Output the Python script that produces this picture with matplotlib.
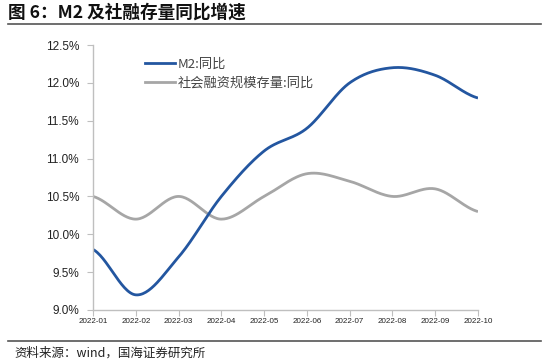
import numpy as np
import matplotlib
matplotlib.use("Agg")
import matplotlib.pyplot as plt
from matplotlib.lines import Line2D

plt.rcParams['font.family'] = ['Noto Sans CJK SC', 'DejaVu Sans']

months = ["2022-01", "2022-02", "2022-03", "2022-04", "2022-05",
          "2022-06", "2022-07", "2022-08", "2022-09", "2022-10"]
m2 = [9.8, 9.2, 9.7, 10.5, 11.1, 11.4, 12.0, 12.2, 12.1, 11.8]
tsf = [10.5, 10.2, 10.5, 10.2, 10.5, 10.8, 10.7, 10.5, 10.6, 10.3]
yticks = [9.0, 9.5, 10.0, 10.5, 11.0, 11.5, 12.0, 12.5]

title = "图 6：M2 及社融存量同比增速"
source = "资料来源：wind，国海证券研究所"
name_m2 = "M2:同比"
name_tsf = "社会融资规模存量:同比"

blue = "#2356A0"
gray = "#A6A6A6"


def smooth(y, n=30, t=0.5):
    y = np.asarray(y, float)
    x = np.arange(len(y), dtype=float)
    xs, ys = [], []
    for i in range(len(y) - 1):
        p0 = y[i - 1] if i > 0 else y[i]
        p3 = y[i + 2] if i + 2 < len(y) else y[i + 1]
        p1, p2 = y[i], y[i + 1]
        m1 = t * (p2 - p0)
        m2_ = t * (p3 - p1)
        s = np.linspace(0, 1, n, endpoint=False)
        h00 = 2 * s**3 - 3 * s**2 + 1
        h10 = s**3 - 2 * s**2 + s
        h01 = -2 * s**3 + 3 * s**2
        h11 = s**3 - s**2
        ys.append(h00 * p1 + h10 * m1 + h01 * p2 + h11 * m2_)
        xs.append(x[i] + s)
    xs.append([x[-1]])
    ys.append([y[-1]])
    return np.concatenate(xs), np.concatenate(ys)


fig = plt.figure(figsize=(5.5, 3.62), dpi=100)
ax = fig.add_axes([93 / 550, 1 - 310 / 362, (478 - 93) / 550, (310 - 45) / 362])

xs, ys = smooth(tsf)
ax.plot(xs, ys, color=gray, lw=2.0, solid_capstyle='butt')
xs, ys = smooth(m2)
ax.plot(xs, ys, color=blue, lw=2.0, solid_capstyle='butt')

ax.set_xlim(0, len(months) - 1)
ax.set_ylim(9.0, 12.5)
ax.set_yticks(yticks)
ax.set_yticklabels([f"{v:.1f}%" for v in yticks], fontsize=8.5, color="#222222",
                   family=['Liberation Sans', 'DejaVu Sans'])
ax.set_xticks(range(len(months)))
ax.set_xticklabels(months, fontsize=5.8, color="#222222",
                   family=['Liberation Sans', 'DejaVu Sans'])
for s in ['top', 'right']:
    ax.spines[s].set_visible(False)
for s in ['left', 'bottom']:
    ax.spines[s].set_color("#BFBFBF")
    ax.spines[s].set_linewidth(1.0)
ax.tick_params(axis='y', length=4, color="#BFBFBF", pad=6)
ax.tick_params(axis='x', length=4, color="#BFBFBF", pad=2)

handles = [Line2D([], [], color=blue, lw=2.0), Line2D([], [], color=gray, lw=2.0)]
leg = ax.legend(handles, [name_m2, name_tsf], loc='upper left',
                bbox_to_anchor=(133 / 550, 1 - 46 / 362), bbox_transform=fig.transFigure,
                frameon=False, fontsize=9.5, handlelength=2.3, handletextpad=0.15,
                labelspacing=0.45, labelcolor="#444444")

fig.text(8 / 550, 1 - 13 / 362, title, fontsize=12.7, fontweight='bold',
         va='center', ha='left', color="#111111")
fig.add_artist(Line2D([8 / 550, 541 / 550], [1 - 24 / 362, 1 - 24 / 362],
                      color="#555555", lw=1.2, transform=fig.transFigure))
fig.add_artist(Line2D([8 / 550, 541 / 550], [1 - 341 / 362, 1 - 341 / 362],
                      color="#555555", lw=1.2, transform=fig.transFigure))
fig.text(14 / 550, 1 - 353 / 362, source, fontsize=9, va='center', ha='left',
         color="#222222")

fig.savefig("out.png", dpi=100)
